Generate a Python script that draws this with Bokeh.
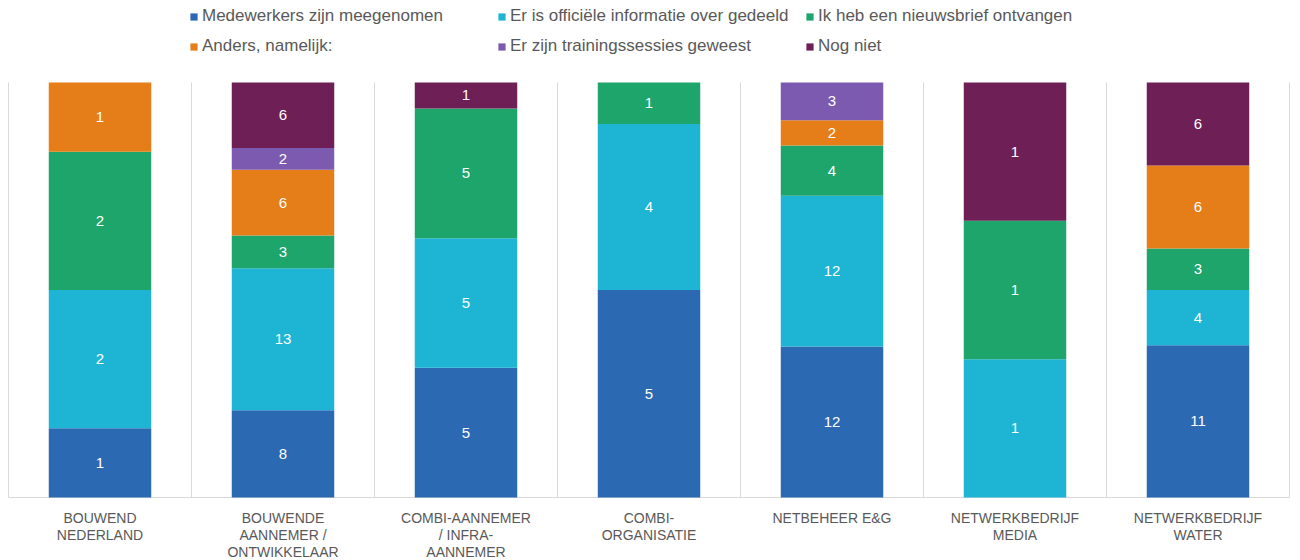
from bokeh.plotting import figure
from bokeh.models import ColumnDataSource, Legend
from bokeh.embed import file_html
from bokeh.resources import INLINE
from bokeh.core.properties import value

categories = ["BOUWEND NEDERLAND", "BOUWENDE AANNEMER / ONTWIKKELAAR",
              "COMBI-AANNEMER / INFRA-AANNEMER", "COMBI-ORGANISATIE",
              "NETBEHEER E&G", "NETWERKBEDRIJF MEDIA", "NETWERKBEDRIJF WATER"]
category_labels = ["BOUWEND\nNEDERLAND", "BOUWENDE\nAANNEMER /\nONTWIKKELAAR",
                   "COMBI-AANNEMER\n/ INFRA-\nAANNEMER", "COMBI-\nORGANISATIE",
                   "NETBEHEER E&G", "NETWERKBEDRIJF\nMEDIA", "NETWERKBEDRIJF\nWATER"]
series_names = ["Medewerkers zijn meegenomen", "Er is officiële informatie over gedeeld",
                "Ik heb een nieuwsbrief ontvangen", "Anders, namelijk:",
                "Er zijn trainingssessies geweest", "Nog niet"]
medewerkers = [1, 8, 5, 5, 12, 0, 11]
officieel = [2, 13, 5, 4, 12, 1, 4]
nieuwsbrief = [2, 3, 5, 1, 4, 1, 3]
anders = [1, 6, 0, 0, 2, 0, 6]
trainingen = [0, 2, 0, 0, 3, 0, 0]
nog_niet = [0, 6, 1, 0, 0, 1, 6]
colors = ["#2B69B2", "#1EB5D5", "#1DA56B", "#E57E19", "#7B5AAF", "#6E1F55"]

series = [medewerkers, officieel, nieuwsbrief, anders, trainingen, nog_niet]
keys = ["s0", "s1", "s2", "s3", "s4", "s5"]
n = len(categories)
totals = [sum(s[i] for s in series) for i in range(n)]
xs = list(range(n))
data = {"x": xs}
for k, s in zip(keys, series):
    data[k] = [s[i] / totals[i] for i in range(n)]
source = ColumnDataSource(data)

# layout (pixels)
W, H = 1300, 560
TOP, BOTTOM = 82, 497      # bar area
LEFT, CAT_W = 8, 183       # first separator, category width
SCALE = BOTTOM - TOP
y0 = -(H - BOTTOM) / SCALE
y1 = 1 + TOP / SCALE
x0 = -0.5 - LEFT / CAT_W
x1 = x0 + W / CAT_W
p = figure(width=W, height=H, x_range=(x0, x1), y_range=(y0, y1),
           output_backend="svg", toolbar_location=None, x_axis_type=None, y_axis_type=None,
           min_border_left=0, min_border_right=0, min_border_top=0, min_border_bottom=0)
p.outline_line_color = None
p.xgrid.grid_line_color = None
p.ygrid.grid_line_color = None

# category separators and base line
bx = [i - 0.5 for i in range(n + 1)]
p.segment(x0=bx, y0=[0] * len(bx), x1=bx, y1=[1] * len(bx), line_color="#D9D9D9", line_width=1)
p.segment(x0=[-0.5], y0=[0], x1=[n - 0.5], y1=[0], line_color="#D9D9D9", line_width=1)

renderers = p.vbar_stack(keys, x="x", width=0.56, source=source, color=colors, line_color=None)

lx, ly, lt = [], [], []
for i in range(n):
    cum = 0.0
    for s in series:
        frac = s[i] / totals[i]
        if s[i] > 0:
            lx.append(i)
            ly.append(cum + frac / 2)
            lt.append(str(s[i]))
        cum += frac
lsrc = ColumnDataSource(dict(x=lx, y=ly, t=lt))
p.text(x="x", y="y", text="t", source=lsrc, text_color="white", text_align="center",
       text_baseline="middle", text_font=value("Liberation Sans"), text_font_size="15px")

# category labels
csrc = ColumnDataSource(dict(x=xs, y=[-12 / SCALE] * n, t=category_labels))
p.text(x="x", y="y", text="t", source=csrc, text_color="#595959", text_align="center",
       text_baseline="top", text_font=value("Liberation Sans"), text_font_size="14px",
       text_line_height=1.08)

legend = Legend(items=[(name, [r]) for name, r in zip(series_names, renderers)],
                ncols=3, location=(189, H - 56), orientation="horizontal")
legend.label_text_font = "Liberation Sans"
legend.label_text_font_size = "17px"
legend.label_text_color = "#595959"
legend.glyph_width = 9
legend.glyph_height = 9
legend.label_standoff = 4
legend.label_width = 285
legend.label_height = 16
legend.spacing = 10
legend.padding = 0
legend.margin = 0
legend.border_line_color = None
legend.background_fill_alpha = 0
p.add_layout(legend, "center")

open("out.html", "w").write(file_html(p, INLINE))
